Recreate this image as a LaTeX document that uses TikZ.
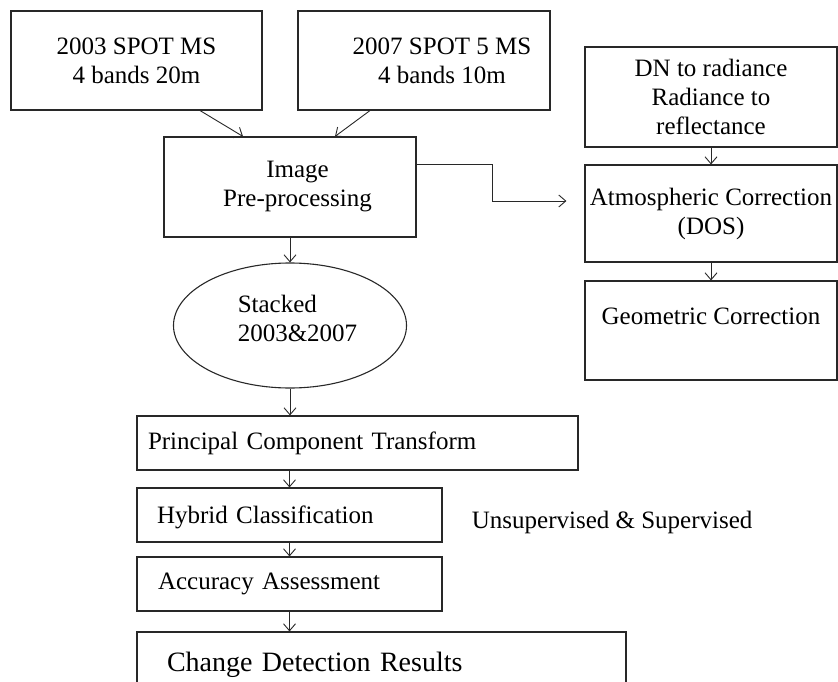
\documentclass[tikz,border=0pt]{standalone}
\usepackage{fontspec}
\setmainfont{Liberation Serif}
\usepackage{xcolor}
\definecolor{textcolor}{RGB}{0,0,0}
\definecolor{linecolor}{RGB}{40,40,40}
\usepackage{tikz}
\usetikzlibrary{arrows.meta,shapes.geometric}

\begin{document}
\begin{tikzpicture}[x=1pt, y=-1pt, line width=1.1pt,
  every node/.style={color=textcolor, font=\fontsize{25}{29}\selectfont},
  box/.style={draw=linecolor, rectangle, inner sep=0pt, align=center},
  leftbox/.style={draw=linecolor, rectangle, inner ysep=0pt, align=left},
  arr/.style={draw=linecolor, line width=0.9pt, -{Straight Barb[length=7pt,width=12pt]}}]
  \useasboundingbox (0,0) rectangle (838,682);
  % input images
  \node[box, minimum width=251pt, minimum height=99pt] (spot03) at (136.5,60.5) {2003 SPOT MS\\4 bands 20m};
  \node[box, minimum width=252pt, minimum height=99pt] (spot07) at (424,60.5) {\hspace*{36pt}2007 SPOT 5 MS\\\hspace*{36pt}4 bands 10m};
  \node[box, minimum width=252pt, minimum height=100pt] (prep) at (290,187) {\hspace*{15pt}Image\\\hspace*{15pt}Pre-processing};
  \node[draw=linecolor, ellipse, inner sep=0pt, minimum width=233pt, minimum height=125pt, align=left, text depth=14pt] (stack) at (290,325.5) {\hspace*{15pt}Stacked\\\hspace*{15pt}2003\&2007};
  % correction chain
  \node[box, minimum width=252pt, minimum height=100pt] (dn) at (711,97) {DN to radiance\\Radiance to\\reflectance};
  \node[box, minimum width=252pt, minimum height=97pt] (atm) at (711,213.5) {Atmospheric Correction\\(DOS)};
  \node[box, minimum width=252pt, minimum height=99pt] (geo) at (711,330.5) {Geometric Correction\\\mbox{}};
  % classification chain
  \node[leftbox, inner xsep=11pt, text width=419pt, minimum height=54pt] (pct) at (357.5,443) {Principal Component Transform};
  \node[leftbox, inner xsep=20pt, text width=265pt, minimum height=54pt, text depth=0pt] (hyb) at (289.5,515) {Hybrid Classification};
  \node[anchor=base west] (unsup) at (468,528) {Unsupervised \& Supervised};
  \node[leftbox, inner xsep=21pt, text width=263pt, minimum height=54pt] (acc) at (289.5,584) {Accuracy Assessment};
  \node[leftbox, inner xsep=30pt, text width=429pt, minimum height=66pt, font=\fontsize{28}{32}\selectfont] (chg) at (381.5,665) {Change Detection Results};
  % connectors
  \draw[arr] ([xshift=63.5pt]spot03.south) -- ([xshift=-47pt]prep.north);
  \draw[arr] ([xshift=-54pt]spot07.south) -- ([xshift=45pt]prep.north);
  \draw[arr] ([yshift=23pt]prep.east) -- ++(76pt,0) |- ([xshift=-18pt,yshift=12.5pt]atm.west);
  \draw[arr] (dn) -- (atm);
  \draw[arr] (atm) -- (geo);
  \draw[arr] (prep) -- (stack);
  \draw[arr] (stack.south) -- (stack.south |- pct.north);
  \draw[arr] (hyb.north |- pct.south) -- (hyb.north);
  \draw[arr] (hyb) -- (acc);
  \draw[arr] (acc.south) -- (acc.south |- chg.north);
\end{tikzpicture}
\end{document}
